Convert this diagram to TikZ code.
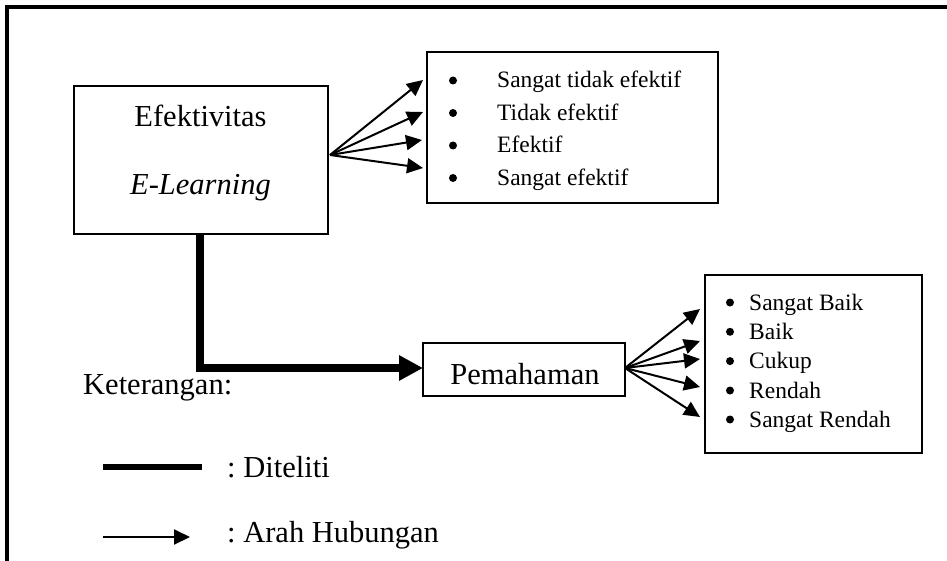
\documentclass[tikz,border=0pt]{standalone}
\usepackage{fontspec}
\setmainfont{Liberation Serif}
\usetikzlibrary{arrows.meta}
\frenchspacing
\tikzset{
  boxd/.style={draw, line width=2pt},
  thin/.style={line width=2pt, -{Triangle[length=16pt,width=15pt]}},
  thick/.style={line width=8pt, line join=miter, -{Triangle[length=24pt,width=24pt]}},
  big/.style={inner sep=0pt, font=\fontsize{30.5}{36}\selectfont},
  small/.style={inner sep=0pt, font=\fontsize{23.5}{28}\selectfont, anchor=base west},
  bul/.style={circle, fill, inner sep=0pt, minimum size=8pt},
}
\begin{document}
\frenchspacing
\begin{tikzpicture}[x=1pt,y=-1pt]
\useasboundingbox (0,0) rectangle (947,561);
% frame
\draw[line width=3.5pt] (7,561) -- (7,7) -- (947,7);
% boxes
\draw[boxd] (74,86) rectangle (328,234);
\draw[boxd] (427,52) rectangle (718,203);
\draw[boxd] (423,343) rectangle (625,396);
\draw[boxd] (705,275) rectangle (922,453);
% box texts
\node[big,anchor=base] (t1) at (200.5,127) {Efektivitas};
\node[big,anchor=base] (t2) at (200.5,195) {\itshape E-Learning};
\node[big,anchor=base] (pem) at (525,384) {Pemahaman};
% list 1
\foreach \y/\t [count=\i] in {88/Sangat tidak efektif,120.5/Tidak efektif,153/Efektif,185.5/Sangat efektif}{
  \node[bul] (ba\i) at (453,\y-7.5) {};
  \node[small] (la\i) at (497,\y) {\t};
}
% list 2
\foreach \y/\t [count=\i] in {310/Sangat Baik,339.3/Baik,368.6/Cukup,398/Rendah,427/Sangat Rendah}{
  \node[bul] (bb\i) at (730,\y-7.5) {};
  \node[small] (lb\i) at (749,\y) {\t};
}
% arrows from Efektivitas
\coordinate (o1) at (330,155);
\coordinate (a1) at (423,80);
\coordinate (a2) at (423,112);
\coordinate (a3) at (422,140);
\coordinate (a4) at (423,168);
\foreach \k in {1,...,4}{\draw[thin] (o1) -- (a\k);}
% arrows from Pemahaman
\coordinate (o2) at (625,368);
\coordinate (b1) at (700,309);
\coordinate (b2) at (700,341);
\coordinate (b3) at (700,359);
\coordinate (b4) at (700,387);
\coordinate (b5) at (700,417);
\foreach \k in {1,...,5}{\draw[thin] (o2) -- (b\k);}
% thick connector
\coordinate (s) at (200,234);
\coordinate (c) at (200,368);
\coordinate (e) at (423,368);
\draw[thick] (s) -- (c) -- (e);
% legend
\node[big,anchor=base west] (ket) at (83,394) {Keterangan:};
\coordinate (l1a) at (103,467);
\coordinate (l1b) at (202,467);
\draw[line width=6.5pt] (l1a) -- (l1b);
\node[big,anchor=base west] (d1) at (227,477) {: Diteliti};
\coordinate (l2a) at (103,537);
\coordinate (l2b) at (190,537);
\draw[thin] (l2a) -- (l2b);
\node[big,anchor=base west] (d2) at (227,542) {: Arah Hubungan};
\end{tikzpicture}
\end{document}
